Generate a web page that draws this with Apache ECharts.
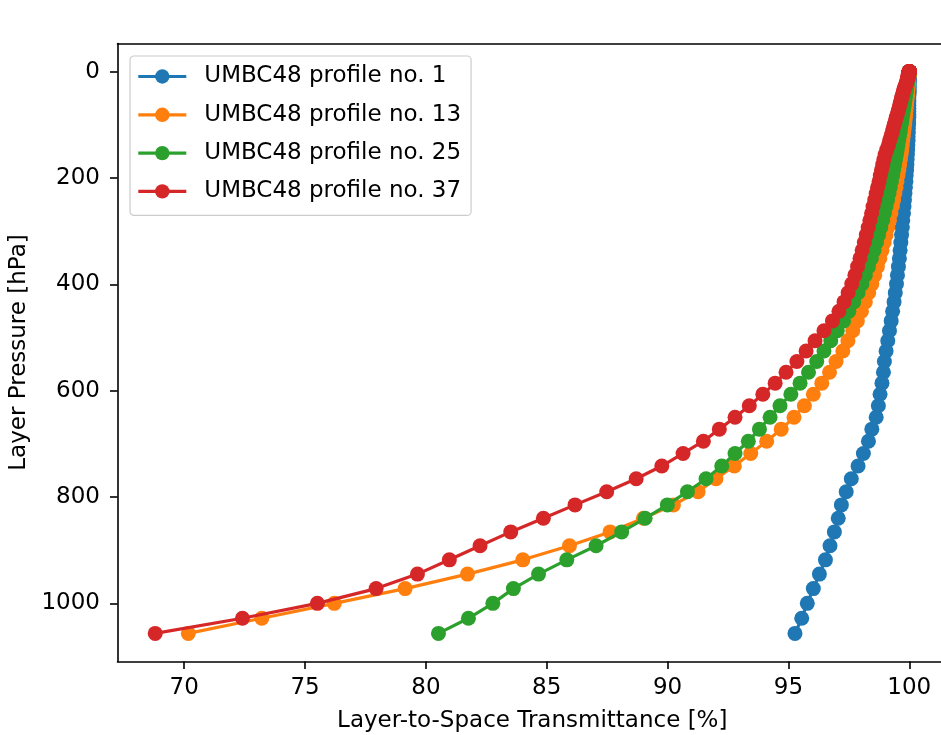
<!DOCTYPE html>
<html>
<head>
<meta charset="utf-8">
<script src="https://cdn.jsdelivr.net/npm/echarts@6/dist/echarts.min.js"></script>
<style>html,body{margin:0;padding:0;background:#fff;}#c{width:941px;height:735px;}</style>
</head>
<body>
<div id="c"></div>
<script>
const pressure = [
0.0106,0.0273,0.0577,0.107,0.181,0.285,0.426,0.610,0.845,1.136,
1.492,1.920,2.427,3.020,3.708,4.499,5.399,6.417,7.561,8.839,
10.258,11.827,13.553,15.444,17.508,19.754,22.188,24.818,27.652,30.698,
33.962,37.454,41.178,45.144,49.358,53.827,58.558,63.557,68.833,74.390,
80.235,86.376,92.817,99.566,106.627,114.007,121.712,129.746,138.115,146.826,
155.881,165.287,175.048,185.169,195.655,206.508,217.735,229.338,241.321,253.689,
266.444,279.590,293.131,307.068,321.406,336.146,351.292,366.845,382.808,399.183,
415.972,433.176,450.797,468.836,487.295,506.175,525.476,545.200,565.346,585.915,
606.909,628.326,650.166,672.430,695.116,718.226,741.757,765.709,790.081,814.871,
840.080,865.704,891.743,918.195,945.057,972.329,1000.007,1028.090,1056.575];

const profile1 = [
100.00,100.00,100.00,100.00,100.00,100.00,100.00,100.00,100.00,100.00,
100.00,100.00,100.00,100.00,100.00,100.00,100.00,100.00,100.00,100.00,
100.00,100.00,100.00,99.99,99.99,99.99,99.99,99.99,99.99,99.99,
99.99,99.99,99.99,99.98,99.98,99.98,99.98,99.98,99.98,99.98,
99.98,99.98,99.97,99.97,99.96,99.96,99.95,99.95,99.94,99.93,
99.92,99.91,99.90,99.89,99.87,99.86,99.84,99.82,99.80,99.78,
99.76,99.73,99.71,99.68,99.65,99.62,99.59,99.55,99.51,99.47,
99.42,99.37,99.31,99.25,99.18,99.11,99.04,98.97,98.93,98.87,
98.79,98.72,98.63,98.45,98.31,98.10,97.88,97.60,97.39,97.19,
97.06,96.90,96.72,96.53,96.28,96.03,95.78,95.55,95.27];

const profile13 = [
100.00,100.00,100.00,100.00,100.00,100.00,100.00,99.99,99.99,99.99,
99.99,99.99,99.99,99.99,99.99,99.99,99.99,99.99,99.98,99.98,
99.98,99.98,99.97,99.97,99.97,99.96,99.96,99.95,99.95,99.94,
99.94,99.93,99.92,99.92,99.91,99.90,99.89,99.88,99.87,99.86,
99.85,99.84,99.82,99.81,99.79,99.77,99.75,99.73,99.71,99.69,
99.66,99.63,99.60,99.57,99.53,99.49,99.45,99.40,99.35,99.30,
99.24,99.18,99.11,99.04,98.96,98.87,98.78,98.68,98.57,98.45,
98.32,98.18,98.02,97.85,97.66,97.46,97.25,96.97,96.70,96.38,
96.03,95.66,95.23,94.70,94.10,93.44,92.76,92.00,91.26,90.24,
89.00,87.62,85.94,84.01,81.72,79.14,76.21,73.21,70.17];

const profile25 = [
100.00,100.00,100.00,100.00,100.00,100.00,99.99,99.99,99.99,99.99,
99.99,99.99,99.99,99.98,99.98,99.98,99.98,99.97,99.97,99.97,
99.96,99.96,99.95,99.95,99.94,99.93,99.92,99.91,99.90,99.89,
99.88,99.87,99.86,99.85,99.83,99.82,99.80,99.79,99.77,99.75,
99.73,99.71,99.69,99.67,99.64,99.62,99.59,99.56,99.53,99.50,
99.47,99.43,99.39,99.35,99.31,99.26,99.21,99.16,99.10,99.04,
98.97,98.90,98.82,98.73,98.64,98.54,98.43,98.31,98.18,98.04,
97.88,97.70,97.50,97.28,97.02,96.75,96.47,96.17,95.83,95.48,
95.10,94.65,94.24,93.80,93.34,92.79,92.24,91.59,90.82,89.99,
89.07,88.10,87.04,85.83,84.66,83.62,82.77,81.76,80.52];

const profile37 = [
100.00,100.00,100.00,100.00,100.00,100.00,99.99,99.99,99.99,99.99,
99.99,99.98,99.98,99.98,99.97,99.97,99.96,99.96,99.95,99.95,
99.95,99.94,99.93,99.92,99.90,99.89,99.87,99.85,99.83,99.80,
99.78,99.76,99.74,99.71,99.68,99.66,99.63,99.60,99.57,99.54,
99.50,99.46,99.42,99.38,99.33,99.29,99.24,99.19,99.14,99.07,
99.00,98.95,98.90,98.85,98.80,98.75,98.69,98.63,98.57,98.50,
98.44,98.37,98.30,98.22,98.14,98.05,97.96,97.86,97.75,97.62,
97.47,97.30,97.09,96.82,96.47,96.10,95.73,95.35,94.90,94.45,
93.94,93.38,92.79,92.14,91.48,90.64,89.76,88.70,87.48,86.17,
84.86,83.51,82.24,80.97,79.65,77.94,75.51,72.41,68.80];

const seriesNames = ['UMBC48 profile no. 1','UMBC48 profile no. 13','UMBC48 profile no. 25','UMBC48 profile no. 37'];
const seriesValues = [profile1, profile13, profile25, profile37];
const colors = ['#1f77b4','#ff7f0e','#2ca02c','#d62728'];
const xTicks = [70,75,80,85,90,95,100];
const yTicks = [0,200,400,600,800,1000];

const FONT = 'DejaVu Sans';
const FS = 23;
const X_MIN = 67.24, X_MAX = 101.56;

const chart = echarts.init(document.getElementById('c'), null, {renderer:'canvas'});
chart.setOption({
  animation: false,
  backgroundColor: '#ffffff',
  textStyle: {fontFamily: FONT, color: '#000'},
  grid: {left: 117.5, width: 829.5, top: 43.5, height: 618, outerBoundsMode: 'none', containLabel: false, show: false},
  legend: {
    orient: 'vertical', left: 130, top: 56,
    padding: [8.5, 10, 12, 6.7],
    itemWidth: 48, itemHeight: 18, itemGap: 14.3,
    borderColor: '#cccccc', borderWidth: 1.2, borderRadius: 4,
    backgroundColor: 'rgba(255,255,255,0.8)',
    lineStyle: {width: 3.2},
    textStyle: {fontFamily: FONT, fontSize: FS, color: '#000', lineHeight: 24, padding: [0,0,0,13]},
    data: seriesNames
  },
  xAxis: [{
    type: 'value', min: X_MIN, max: X_MAX, position: 'bottom',
    name: 'Layer-to-Space Transmittance [%]', nameLocation: 'middle', nameGap: 48,
    nameTextStyle: {fontFamily: FONT, fontSize: FS, color: '#000'},
    axisLine: {show: true, onZero: false, lineStyle: {color: '#000', width: 1.6}},
    axisTick: {show: true, length: 7.5, lineStyle: {color: '#000', width: 1.6}, customValues: xTicks},
    axisLabel: {fontFamily: FONT, fontSize: FS, color: '#000', margin: 15, customValues: xTicks, formatter: v => String(v)},
    splitLine: {show: false}
  }, {
    type: 'value', min: X_MIN, max: X_MAX, position: 'top',
    axisLine: {show: true, onZero: false, lineStyle: {color: '#000', width: 1.6}},
    axisTick: {show: false}, axisLabel: {show: false}, splitLine: {show: false}
  }],
  yAxis: {
    type: 'value', inverse: true, min: -52.8, max: 1109.4,
    name: 'Layer Pressure [hPa]', nameLocation: 'middle', nameGap: 87,
    nameTextStyle: {fontFamily: FONT, fontSize: FS, color: '#000'},
    axisLine: {show: true, onZero: false, lineStyle: {color: '#000', width: 1.6}},
    axisTick: {show: true, length: 7.5, lineStyle: {color: '#000', width: 1.6}, customValues: yTicks},
    axisLabel: {fontFamily: FONT, fontSize: FS, color: '#000', margin: 17.5, customValues: yTicks, formatter: v => String(v)},
    splitLine: {show: false}
  },
  series: seriesNames.map((name, i) => ({
    name: name,
    type: 'line',
    xAxisIndex: 0,
    z: 2 + i,
    data: seriesValues[i].map((v, k) => [v, pressure[k]]),
    symbol: 'circle',
    symbolSize: 15,
    showAllSymbol: true,
    color: colors[i],
    lineStyle: {color: colors[i], width: 3.2},
    itemStyle: {color: colors[i]},
    emphasis: {disabled: true}
  }))
});
</script>
</body>
</html>
